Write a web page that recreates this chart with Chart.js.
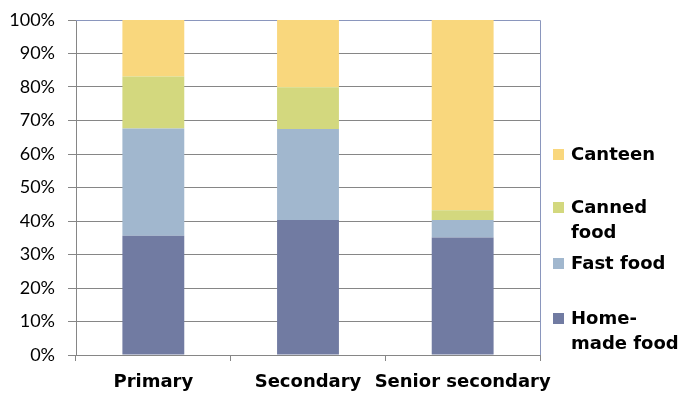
<!DOCTYPE html>
<html>
<head>
<meta charset="utf-8">
<script src="https://cdn.jsdelivr.net/npm/chart.js@4/dist/chart.umd.min.js"></script>
<style>
  html, body { margin: 0; padding: 0; background: #fff; }
  #wrap { width: 685px; height: 396px; }
</style>
</head>
<body>
<div id="wrap"><canvas id="c" width="685" height="396"></canvas></div>
<script>
// School levels and the share of each food source (percent)
const levels = ['Primary', 'Secondary', 'Senior secondary'];
const homeMade = [35.6, 40.3, 35.1];
const fastFood = [32.0, 27.2, 5.2];
const cannedFood = [15.5, 12.4, 2.9];
const canteen = [16.9, 20.1, 56.8];
const yTicks = [0, 10, 20, 30, 40, 50, 60, 70, 80, 90, 100];

// Legend text, split the way it wraps beside the plot
const legendLines = {
  'Canteen': ['Canteen'],
  'Canned food': ['Canned', 'food'],
  'Fast food': ['Fast food'],
  'Home-made food': ['Home-', 'made food']
};
// first-line centre of each legend entry, measured from the top of the canvas
const legendRows = { 'Canteen': 154, 'Canned food': 207, 'Fast food': 263, 'Home-made food': 318 };

const TICK_FONT = 'Lato, "Open Sans", sans-serif';
const BOLD_FONT = '"DejaVu Sans", Lato, sans-serif';
const GRID = '#868686';
const FRAME = '#8a96bd';

const sideLegend = {
  id: 'sideLegend',
  afterDraw(chart) {
    const ctx = chart.ctx;
    const x0 = chart.chartArea.right;
    ctx.save();
    ctx.font = 'bold 18px ' + BOLD_FONT;
    ctx.textBaseline = 'middle';
    chart.data.datasets.slice().reverse().forEach(ds => {
      const y = legendRows[ds.label];
      ctx.fillStyle = ds.backgroundColor;
      ctx.fillRect(x0 + 13, y - 5, 11, 11);
      ctx.fillStyle = '#000';
      legendLines[ds.label].forEach((t, i) => {
        ctx.fillText(t, x0 + 31, y + 1 + i * 25.5);
      });
    });
    ctx.restore();
  }
};

const plotFrame = {
  id: 'plotFrame',
  beforeDatasetsDraw(chart) {
    const a = chart.chartArea, ctx = chart.ctx;
    ctx.save();
    ctx.strokeStyle = FRAME;
    ctx.lineWidth = 1;
    ctx.beginPath();
    ctx.moveTo(a.left, a.top + 0.5);
    ctx.lineTo(a.right + 0.5, a.top + 0.5);
    ctx.lineTo(a.right + 0.5, a.bottom);
    ctx.stroke();
    ctx.restore();
  }
};

new Chart(document.getElementById('c'), {
  type: 'bar',
  data: {
    labels: levels,
    datasets: [
      { label: 'Home-made food', data: homeMade, backgroundColor: '#717ba2' },
      { label: 'Fast food', data: fastFood, backgroundColor: '#a1b7ce' },
      { label: 'Canned food', data: cannedFood, backgroundColor: '#d3d87e' },
      { label: 'Canteen', data: canteen, backgroundColor: '#f9d77d' }
    ]
  },
  options: {
    responsive: false,
    animation: false,
    devicePixelRatio: 1,
    layout: { padding: { top: 20, right: 145, left: 0, bottom: 0 } },
    datasets: { bar: { barPercentage: 0.4, categoryPercentage: 1.0 } },
    plugins: { legend: { display: false }, tooltip: { enabled: false } },
    scales: {
      x: {
        stacked: true,
        afterFit(s) { s.height = 41; s.paddingLeft = 0; s.paddingRight = 0; },
        grid: { offset: true, drawOnChartArea: false, drawTicks: true, tickLength: 6, color: GRID },
        border: { color: GRID, width: 1 },
        ticks: { color: '#000', font: { family: BOLD_FONT, size: 18, weight: 'bold' }, padding: 11, maxRotation: 0, autoSkip: false }
      },
      y: {
        stacked: true,
        min: 0,
        max: 100,
        afterFit(s) { s.width = 76; s.paddingTop = 0; s.paddingBottom = 0; },
        afterBuildTicks(s) { s.ticks = yTicks.map(v => ({ value: v })); },
        grid: { color: GRID, tickLength: 8 },
        border: { color: GRID, width: 1 },
        ticks: { color: '#000', font: { family: TICK_FONT, size: 18 }, padding: 13, callback: v => v + '%' }
      }
    }
  },
  plugins: [plotFrame, sideLegend]
});
</script>
</body>
</html>
